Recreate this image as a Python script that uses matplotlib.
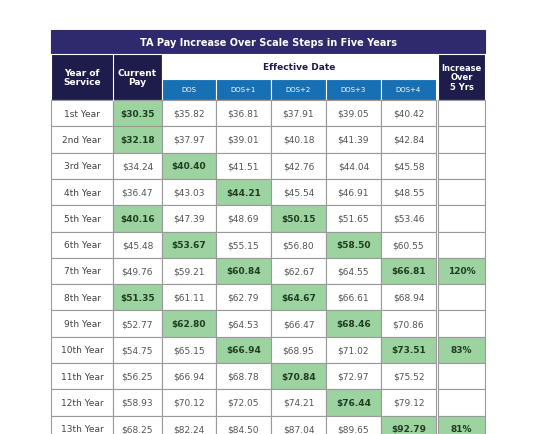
import matplotlib.pyplot as plt
from matplotlib.patches import Rectangle

title = 'TA Pay Increase Over Scale Steps in Five Years'
years = ['1st Year', '2nd Year', '3rd Year', '4th Year', '5th Year', '6th Year', '7th Year',
         '8th Year', '9th Year', '10th Year', '11th Year', '12th Year', '13th Year']
current = [30.35, 32.18, 34.24, 36.47, 40.16, 45.48, 49.76, 51.35, 52.77, 54.75, 56.25, 58.93, 68.25]
dos = [35.82, 37.97, 40.40, 43.03, 47.39, 53.67, 59.21, 61.11, 62.80, 65.15, 66.94, 70.12, 82.24]
dos1 = [36.81, 39.01, 41.51, 44.21, 48.69, 55.15, 60.84, 62.79, 64.53, 66.94, 68.78, 72.05, 84.50]
dos2 = [37.91, 40.18, 42.76, 45.54, 50.15, 56.80, 62.67, 64.67, 66.47, 68.95, 70.84, 74.21, 87.04]
dos3 = [39.05, 41.39, 44.04, 46.91, 51.65, 58.50, 64.55, 66.61, 68.46, 71.02, 72.97, 76.44, 89.65]
dos4 = [40.42, 42.84, 45.58, 48.55, 53.46, 60.55, 66.81, 68.94, 70.86, 73.51, 75.52, 79.12, 92.79]
increase = ['', '', '', '', '', '', '120%', '', '', '83%', '', '', '81%']
step_labels = ['DOS', 'DOS+1', 'DOS+2', 'DOS+3', 'DOS+4']
# column index highlighted per row (0 = current pay, 1..5 = DOS..DOS+4)
highlight = [[0], [0], [1], [2], [0, 3], [1, 4], [2, 5], [0, 3], [1, 4], [2, 5], [3], [4], [5]]

fig = plt.figure(figsize=(5.35, 4.35), dpi=100)
ax = fig.add_axes([0, 0, 1, 1])
ax.set_xlim(0, 535)
ax.set_ylim(435, 0)
ax.axis('off')

navy = '#2f2a6e'
dark = '#1e1c4a'
blue = '#1670b3'
green = '#9dd3a0'
edge = '#9a9a9a'

xs = [51, 113, 162, 216, 271, 326, 381, 436]
inc_x = (438, 485)
top, title_h = 31, 23
h_top, h_mid, h_bot = 55, 80, 101
rh = 26.3

def rect(x0, y0, w, h, fc, ec=edge, lw=0.8):
    ax.add_patch(Rectangle((x0, y0), w, h, facecolor=fc, edgecolor=ec, lw=lw))

# title bar
rect(xs[0], top, inc_x[1] - xs[0], title_h, navy, ec=navy)
ax.text((xs[0] + inc_x[1]) / 2, top + title_h / 2, title, color='white', ha='center',
        va='center', fontsize=7, fontweight='bold')

# header
rect(xs[0], h_top, xs[2] - xs[0], h_bot - h_top, dark, ec='white')
ax.plot([xs[1], xs[1]], [h_top, h_bot], color='white', lw=0.8)
ax.text((xs[0] + xs[1]) / 2, (h_top + h_bot) / 2, 'Year of\nService', color='white',
        ha='center', va='center', fontsize=6.5, fontweight='bold', linespacing=1.1)
ax.text((xs[1] + xs[2]) / 2, (h_top + h_bot) / 2, 'Current\nPay', color='white',
        ha='center', va='center', fontsize=6.5, fontweight='bold', linespacing=1.1)
rect(xs[2], h_top, xs[7] - xs[2], h_mid - h_top, 'white', ec='white')
ax.text((xs[2] + xs[7]) / 2, (h_top + h_mid) / 2, 'Effective Date', color=dark,
        ha='center', va='center', fontsize=6.5, fontweight='bold')
for i, lab in enumerate(step_labels):
    rect(xs[i + 2], h_mid, xs[i + 3] - xs[i + 2], h_bot - h_mid, blue, ec='white')
    ax.text((xs[i + 2] + xs[i + 3]) / 2, (h_mid + h_bot) / 2, lab, color='white',
            ha='center', va='center', fontsize=5)
rect(inc_x[0], h_top, inc_x[1] - inc_x[0], h_bot - h_top, dark, ec='white')
ax.text(sum(inc_x) / 2, (h_top + h_bot) / 2, 'Increase\nOver\n5 Yrs', color='white',
        ha='center', va='center', fontsize=6, fontweight='bold', linespacing=1.1)

# body
cols = [current, dos, dos1, dos2, dos3, dos4]
for r, yr in enumerate(years):
    y0 = h_bot + r * rh
    rect(xs[0], y0, xs[1] - xs[0], rh, 'white')
    ax.text((xs[0] + xs[1]) / 2, y0 + rh / 2, yr, ha='center', va='center',
            fontsize=6.5, color='#444444')
    for c, vals in enumerate(cols):
        hl = c in highlight[r]
        rect(xs[c + 1], y0, xs[c + 2] - xs[c + 1], rh, green if hl else 'white')
        ax.text((xs[c + 1] + xs[c + 2]) / 2, y0 + rh / 2, f'${vals[r]:.2f}',
                ha='center', va='center', fontsize=6.5,
                color='#1f3d22' if hl else '#555555',
                fontweight='bold' if hl else 'normal')
    rect(inc_x[0], y0, inc_x[1] - inc_x[0], rh, green if increase[r] else 'white')
    ax.text(sum(inc_x) / 2, y0 + rh / 2, increase[r], ha='center', va='center',
            fontsize=6.5, color='#1f3d22', fontweight='bold')

fig.savefig('out.png', dpi=100, facecolor='white')
